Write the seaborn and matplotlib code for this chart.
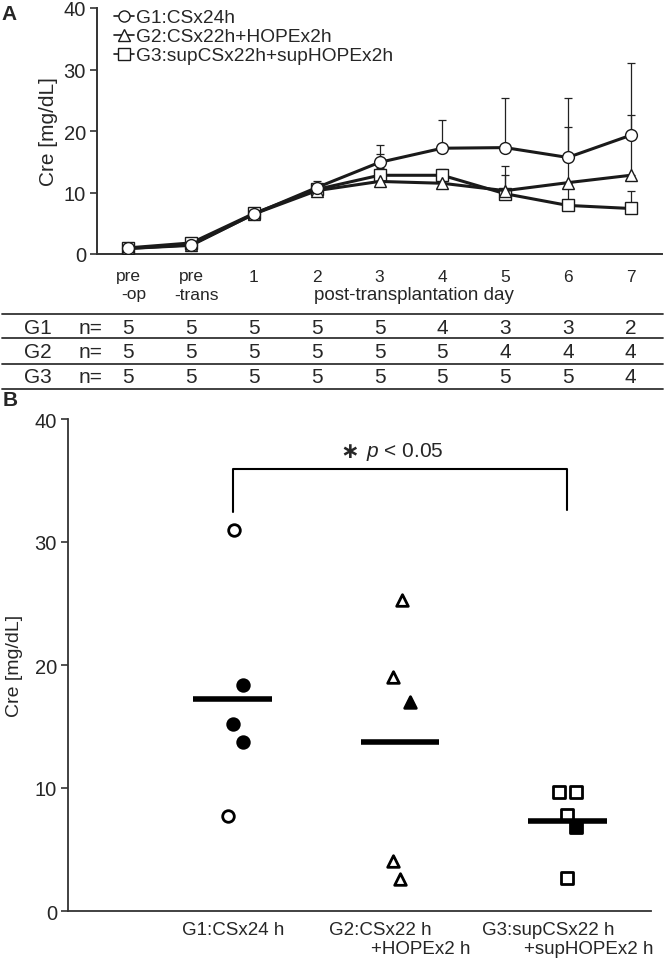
import numpy as np
import pandas as pd
import matplotlib
matplotlib.use("Agg")
import matplotlib.pyplot as plt
import seaborn as sns
from matplotlib import transforms, font_manager
from matplotlib.lines import Line2D

# ---------------- data ----------------
days = ["pre\n-op", "pre\n-trans", "1", "2", "3", "4", "5", "6", "7"]
groups = ["G1", "G2", "G3"]
legend_labels = ["G1:CSx24h", "G2:CSx22h+HOPEx2h", "G3:supCSx22h+supHOPEx2h"]

g1_mean = [0.9, 1.4, 6.5, 10.8, 14.9, 17.2, 17.3, 15.7, 19.3]
g1_sd = [0.2, 0.3, 0.4, 1.0, 2.8, 4.6, 8.0, 9.6, 11.8]
g2_mean = [0.9, 1.5, 6.5, 10.3, 11.8, 11.5, 10.3, 11.6, 12.8]
g2_sd = [0.2, 0.3, 0.4, 0.6, 4.5, 1.0, 4.0, 9.0, 9.8]
g3_mean = [1.0, 1.8, 6.6, 10.5, 12.8, 12.8, 9.8, 7.9, 7.4]
g3_sd = [0.2, 0.3, 0.4, 0.6, 1.2, 1.0, 3.0, 3.5, 2.9]

n_g1 = [5, 5, 5, 5, 5, 4, 3, 3, 2]
n_g2 = [5, 5, 5, 5, 5, 5, 4, 4, 4]
n_g3 = [5, 5, 5, 5, 5, 5, 5, 5, 4]

b_categories = ["G1:CSx24 h", "G2:CSx22 h\n        +HOPEx2 h", "G3:supCSx22 h\n        +supHOPEx2 h"]
b_g1_open = [31.0, 7.7]
b_g1_filled = [18.4, 15.2, 13.7]
b_g2_open = [25.3, 19.0, 4.1, 2.6]
b_g2_filled = [17.0]
b_g3_open = [9.7, 9.7, 7.8, 2.7]
b_g3_filled = [6.8]
b_medians = [17.2, 13.7, 7.3]
sig_star = "\u2217"
sig_text = r"$\mathit{p}$ < 0.05"

# ---------------- layout / style (not data) ----------------
jit_g1_open = [0.01, -0.03]
jit_g1_filled = [0.06, 0.0, 0.06]
jit_g2_open = [0.01, -0.04, -0.04, 0.0]
jit_g2_filled = [0.06]
jit_g3_open = [-0.05, 0.05, 0.0, 0.0]
jit_g3_filled = [0.05]

sns.set_style("ticks")
names = {f.name for f in font_manager.fontManager.ttflist}
narrow = "Liberation Sans Narrow" if "Liberation Sans Narrow" in names else "Liberation Sans"
plt.rcParams["font.family"] = ["Liberation Sans", "DejaVu Sans"]
plt.rcParams["mathtext.fontset"] = "custom"
plt.rcParams["mathtext.rm"] = "Liberation Sans"
plt.rcParams["mathtext.it"] = "Liberation Sans:italic"

W, H = 666, 962
fig = plt.figure(figsize=(W / 100, H / 100), dpi=100)

def fx(px):
    return px / W

def fy(py):
    return 1 - py / H

# ---------------- panel A ----------------
axA = fig.add_axes([fx(97), fy(255), fx(662) - fx(97), fy(9) - fy(255)])
means = [g1_mean, g2_mean, g3_mean]
sds = [g1_sd, g2_sd, g3_sd]
markers = ["o", "^", "s"]
xs = np.arange(len(days))
rows = []
for g, m in zip(groups, means):
    for i, v in enumerate(m):
        rows.append({"group": g, "x": i, "cre": v})
dfA = pd.DataFrame(rows)

for k in [2, 1, 0]:
    axA.errorbar(xs, means[k], yerr=[np.zeros(len(xs)), sds[k]], fmt="none",
                 ecolor="#222222", elinewidth=0.9, capsize=3, capthick=0.9, zorder=1)

for k in [2, 1, 0]:
    sub = dfA[dfA["group"] == groups[k]]
    sns.lineplot(data=sub, x="x", y="cre", ax=axA, color="#1a1a1a", lw=2.2,
                 marker=markers[k], markersize=8.5,
                 markerfacecolor="white", markeredgecolor="#1a1a1a",
                 markeredgewidth=1.0, zorder=3 + (2 - k), legend=False)
handles = []
for k in range(3):
    handles.append(Line2D([0], [0], color="#1a1a1a", lw=1.2, marker=markers[k],
                          markersize=8, markerfacecolor="white",
                          markeredgecolor="#1a1a1a", markeredgewidth=1.0))
axA.legend(handles, legend_labels, loc="upper left", frameon=False,
           bbox_to_anchor=(fx(114), fy(10)), bbox_transform=fig.transFigure,
           fontsize=13.8, handlelength=1.05, handletextpad=0.12, labelspacing=0.08,
           borderpad=0, borderaxespad=0)

axA.set_xlim(-0.5, 8.5)
axA.set_ylim(0, 40)
axA.set_yticks([0, 10, 20, 30, 40])
axA.set_xticks([])
axA.set_xlabel("")
axA.set_ylabel("Cre [mg/dL]", fontsize=15, labelpad=4)
axA.tick_params(axis="y", labelsize=14.5, length=5, width=1.2, color="#333333", pad=3)
sns.despine(ax=axA)
for s in ["left", "bottom"]:
    axA.spines[s].set_linewidth(1.4)
    axA.spines[s].set_color("#333333")

# x labels and table (x from axis data coords, y in figure coords)
bt = transforms.blended_transform_factory(axA.transData, fig.transFigure)
for i, lab in enumerate(days):
    if "\n" in lab:
        top, bot = lab.split("\n")
        fig.text(i, fy(277), top, transform=bt, ha="center", va="center", fontsize=12.5, family=narrow)
        fig.text(i + 0.08, fy(295), bot, transform=bt, ha="center", va="center", fontsize=12.5, family=narrow)
    else:
        fig.text(i, fy(277), lab, transform=bt, ha="center", va="center", fontsize=12.5, family=narrow)
fig.text(4.55, fy(295), "post-transplantation day", transform=bt, ha="center", va="center",
         fontsize=13.5, family=narrow)

for ly in [315, 339, 365, 390]:
    fig.add_artist(Line2D([fx(2), fx(663)], [fy(ly), fy(ly)], transform=fig.transFigure,
                          color="#333333", lw=1.3))
ns = [n_g1, n_g2, n_g3]
for r, (g, nv, ry) in enumerate(zip(groups, ns, [328, 353, 378])):
    fig.text(fx(38), fy(ry), g, ha="center", va="center", fontsize=15, family=narrow)
    fig.text(fx(90), fy(ry), "n=", ha="center", va="center", fontsize=15, family=narrow)
    for i, v in enumerate(nv):
        fig.text(i, fy(ry), str(v), transform=bt, ha="center", va="center", fontsize=15, family=narrow)

fig.text(fx(9), fy(15), "A", fontsize=15, fontweight="bold", ha="center", va="center")
fig.text(fx(10), fy(401), "B", fontsize=15, fontweight="bold", ha="center", va="center")

# ---------------- panel B ----------------
axB = fig.add_axes([fx(68), fy(912), fx(651) - fx(68), fy(420) - fy(912)])
sets = [
    (0, b_g1_open, jit_g1_open, "o", "open"), (0, b_g1_filled, jit_g1_filled, "o", "filled"),
    (1, b_g2_open, jit_g2_open, "^", "open"), (1, b_g2_filled, jit_g2_filled, "^", "filled"),
    (2, b_g3_open, jit_g3_open, "s", "open"), (2, b_g3_filled, jit_g3_filled, "s", "filled"),
]
for ci, vals, jit, mk, kind in sets:
    d = pd.DataFrame({"x": [ci + j for j in jit], "cre": vals})
    sns.scatterplot(data=d, x="x", y="cre", ax=axB, marker=mk, s=70,
                    facecolor="white" if kind == "open" else "black",
                    edgecolor="black", linewidth=2.0, zorder=3, legend=False)

med = pd.DataFrame({"x": np.arange(3), "cre": b_medians})
for i, row in med.iterrows():
    axB.plot([row["x"] - 0.235, row["x"] + 0.235], [row["cre"], row["cre"]],
             color="black", lw=4, solid_capstyle="butt", zorder=4)

# significance bracket
axB.plot([0, 0, 2, 2], [32.4, 35.9, 35.9, 32.6], color="black", lw=1.5, zorder=2)
axB.text(1.03, 37.4, sig_text, ha="center", va="center", fontsize=15)
axB.annotate(sig_star, xy=(1.03, 37.4), xytext=(-55, 0), textcoords="offset pixels",
             ha="center", va="center", fontsize=16, fontweight="bold",
             family=["DejaVu Sans"])

axB.set_xlim(-0.985, 2.5)
axB.set_ylim(0, 40)
axB.set_yticks([0, 10, 20, 30, 40])
axB.set_xticks([0, 1, 2])
axB.set_xticklabels(b_categories, fontsize=13.5, multialignment="left", va="top")
offset = transforms.ScaledTranslation(0.12, 0, fig.dpi_scale_trans)
for lab in axB.get_xticklabels():
    lab.set_transform(lab.get_transform() + offset)
axB.tick_params(axis="x", length=0, pad=7)
axB.tick_params(axis="y", labelsize=14.5, length=5, width=1.2, color="#333333", pad=3)
axB.set_xlabel("")
axB.set_ylabel("Cre [mg/dL]", fontsize=14, labelpad=8)
sns.despine(ax=axB)
for s in ["left", "bottom"]:
    axB.spines[s].set_linewidth(1.3)
    axB.spines[s].set_color("#333333")

fig.savefig("out.png", dpi=100)
